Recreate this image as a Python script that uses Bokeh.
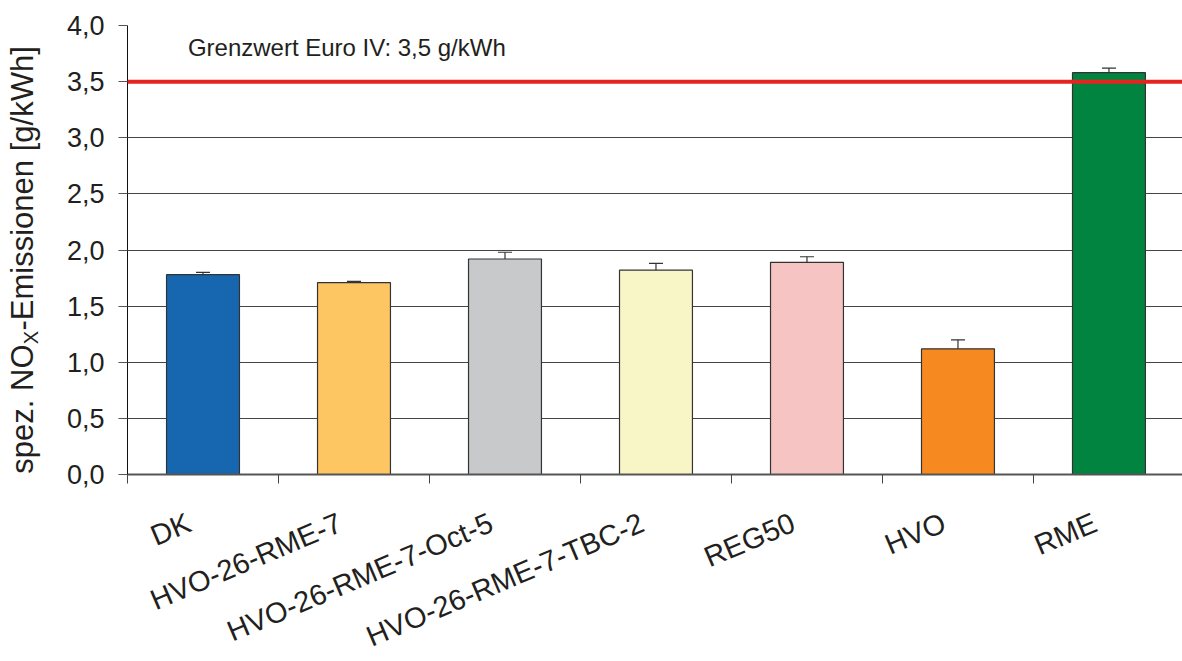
import math
from bokeh.plotting import figure
from bokeh.layouts import row, column
from bokeh.models import (ColumnDataSource, Range1d, FixedTicker, Span, Label,
                          Whisker, TeeHead)
from bokeh.core.properties import value
from bokeh.embed import file_html
from bokeh.resources import INLINE

categories = ["DK", "HVO-26-RME-7", "HVO-26-RME-7-Oct-5", "HVO-26-RME-7-TBC-2",
              "REG50", "HVO", "RME"]
values = [1.78, 1.71, 1.92, 1.82, 1.89, 1.12, 3.58]
errors = [0.02, 0.01, 0.06, 0.06, 0.05, 0.08, 0.04]
colors = ["#1767B0", "#FEC663", "#C8C9CB", "#F8F6C7", "#F7C4C4", "#F68A21", "#00843F"]
limit_value = 3.5
limit_text = "Grenzwert Euro IV: 3,5 g/kWh"
y_ticks = [0, 0.5, 1, 1.5, 2, 2.5, 3, 3.5, 4]
y_tick_labels = ["0,0", "0,5", "1,0", "1,5", "2,0", "2,5", "3,0", "3,5", "4,0"]
y_title_parts = ["spez. NO", "X", "-Emissionen [g/kWh]"]

FONT = "Liberation Sans"
TXT = "#231f20"
TOTAL_H = 661
TOP = 25
FRAME_H = 449
AXIS_BOTTOM = 20
BOTTOM_H = TOTAL_H - TOP - FRAME_H - AXIS_BOTTOM   # label strip height
PX_PER_UNIT = FRAME_H / 4.0  # used only to place the title parts


def title_y(px_from_axis):
    return px_from_axis / PX_PER_UNIT


xpos = [i + 0.5 for i in range(len(categories))]
src = ColumnDataSource(dict(
    x=xpos, top=values, color=colors,
    upper=[v + e for v, e in zip(values, errors)],
    lower=[v - e for v, e in zip(values, errors)],
))

# ---- main chart ----
p = figure(frame_width=1055, frame_height=FRAME_H, output_backend="svg",
           toolbar_location=None,
           x_range=Range1d(0, 6.987), y_range=Range1d(0, 4),
           min_border_left=65, min_border_right=0, min_border_top=TOP,
           min_border_bottom=AXIS_BOTTOM)
p.outline_line_color = None

# ---- y axis title panel (frame aligned with main chart) ----
t = figure(frame_width=62, frame_height=FRAME_H, output_backend="svg",
           toolbar_location=None,
           x_range=Range1d(0, 62), y_range=p.y_range, min_border=0,
           min_border_top=TOP, min_border_bottom=AXIS_BOTTOM,
           x_axis_type=None, y_axis_type=None)
t.outline_line_color = None
t.text(x=[22], y=[title_y(130)], text=[y_title_parts[0]], angle=math.pi / 2,
       text_align="right", text_baseline="alphabetic", text_font=value(FONT),
       text_font_size="31px", text_color=TXT)
t.text(x=[30], y=[title_y(137)], text=[y_title_parts[1]], angle=math.pi / 2,
       text_align="center", text_baseline="alphabetic", text_font=value(FONT),
       text_font_size="20px", text_color=TXT)
t.text(x=[22], y=[title_y(144)], text=[y_title_parts[2]], angle=math.pi / 2,
       text_align="left", text_baseline="alphabetic", text_font=value(FONT),
       text_font_size="31px", text_color=TXT)

p.xgrid.visible = False
p.ygrid.ticker = FixedTicker(ticks=y_ticks)
p.ygrid.grid_line_color = "#444444"
p.ygrid.grid_line_width = 1

ya = p.yaxis[0]
ya.ticker = FixedTicker(ticks=y_ticks)
ya.major_label_overrides = {t_: l for t_, l in zip(y_ticks, y_tick_labels)}
ya.major_tick_in = 0
ya.major_tick_out = 9
ya.minor_tick_line_color = None
ya.axis_line_color = "#111111"
ya.major_tick_line_color = "#555555"
ya.major_label_text_font = FONT
ya.major_label_text_font_size = "27px"
ya.major_label_text_color = TXT
ya.major_label_standoff = 14

xa = p.xaxis[0]
xa.ticker = FixedTicker(ticks=[], minor_ticks=list(range(len(categories) + 1)))
xa.major_tick_line_color = None
xa.major_tick_out = 0
xa.major_tick_in = 0
xa.minor_tick_line_color = "#444444"
xa.minor_tick_in = 0
xa.minor_tick_out = 9
xa.axis_line_color = "#555555"
xa.axis_line_width = 2
xa.major_label_standoff = 0

p.vbar(x="x", top="top", bottom=0, width=0.483, fill_color="color",
       line_color="#333333", line_width=1.2, source=src)

p.add_layout(Span(location=limit_value, dimension="width", line_color="#E52421",
                  line_width=4))

w = Whisker(base="x", upper="upper", lower="lower", source=src,
            line_color="#333333", line_width=1.2,
            upper_head=TeeHead(size=14, line_color="#333333", line_width=1.2),
            lower_head=TeeHead(size=14, line_color="#333333", line_width=1.2))
p.add_layout(w)

p.add_layout(Label(x=0.4, y=3.8, text=limit_text, text_font=FONT,
                   text_font_size="24px", text_color=TXT, text_baseline="middle"))

# ---- category label strip (shares the x scale of the chart) ----
b = figure(frame_width=1055, frame_height=BOTTOM_H, output_backend="svg",
           toolbar_location=None, x_range=p.x_range,
           y_range=Range1d(0, BOTTOM_H), min_border=0, min_border_left=127,
           x_axis_type=None, y_axis_type=None)
b.outline_line_color = None
b.text(x="x", y=BOTTOM_H - 12, text="cat",
       source=ColumnDataSource(dict(x=xpos, cat=categories)),
       x_offset=-20, angle=math.radians(23), text_align="right",
       text_baseline="top", text_font=value(FONT), text_font_size="29px",
       text_color=TXT)

layout = column(row(t, p, spacing=0), b, spacing=0)
open("out.html", "w").write(file_html(layout, INLINE))
